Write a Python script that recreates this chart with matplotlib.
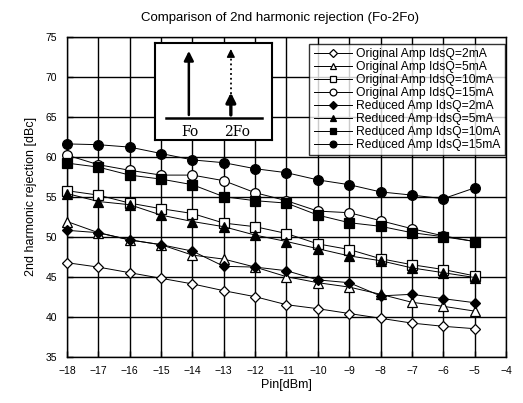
import numpy as np
import matplotlib
matplotlib.use("Agg")
import matplotlib.pyplot as plt

plt.rcParams['font.family'] = ['Liberation Sans', 'DejaVu Sans']

pin = [-18, -17, -16, -15, -14, -13, -12, -11, -10, -9, -8, -7, -6, -5]

orig_2 = [46.75, 46.2, 45.5, 44.8, 44.1, 43.25, 42.5, 41.5, 41.0, 40.4, 39.8, 39.2, 38.8, 38.5]
orig_5 = [51.9, 50.5, 49.6, 49.0, 47.7, 47.2, 46.2, 45.0, 44.25, 43.7, 42.8, 41.8, 41.3, 40.7]
orig_10 = [55.75, 55.2, 54.2, 53.5, 52.9, 51.7, 51.25, 50.4, 49.1, 48.4, 47.25, 46.5, 45.9, 45.1]
orig_15 = [60.2, 59.0, 58.3, 57.7, 57.7, 57.0, 55.5, 54.5, 53.2, 53.0, 52.0, 51.0, 50.1, 49.4]
red_2 = [50.8, 50.5, 49.6, 49.0, 48.2, 46.3, 46.2, 45.75, 44.6, 44.25, 42.6, 42.8, 42.25, 41.75]
red_5 = [55.4, 54.4, 54.0, 52.7, 51.9, 51.25, 50.2, 49.4, 48.5, 47.6, 47.0, 46.1, 45.5, 44.9]
red_10 = [59.2, 58.7, 57.7, 57.2, 56.5, 55.0, 54.5, 54.2, 52.7, 51.75, 51.3, 50.5, 50.0, 49.4]
red_15 = [61.6, 61.5, 61.2, 60.4, 59.6, 59.25, 58.5, 58.0, 57.1, 56.5, 55.6, 55.2, 54.75, 56.1]

labels = ["Original Amp IdsQ=2mA", "Original Amp IdsQ=5mA",
          "Original Amp IdsQ=10mA", "Original Amp IdsQ=15mA",
          "Reduced Amp IdsQ=2mA", "Reduced Amp IdsQ=5mA",
          "Reduced Amp IdsQ=10mA", "Reduced Amp IdsQ=15mA"]

xticks = list(range(-18, -3))
yticks = list(range(35, 80, 5))

fig = plt.figure(figsize=(5.23, 4.03), dpi=100)
ax = fig.add_axes([67 / 523, 1 - 356.7 / 403, 439 / 523, 320 / 403])

series = [
    (orig_2, 'D', 'white', 5.5),
    (orig_5, '^', 'white', 6.5),
    (orig_10, 's', 'white', 6.5),
    (orig_15, 'o', 'white', 7),
    (red_2, 'D', 'black', 5.5),
    (red_5, '^', 'black', 6.5),
    (red_10, 's', 'black', 6.5),
    (red_15, 'o', 'black', 7),
]
for (vals, mk, fc, ms), lab in zip(series, labels):
    ax.plot(pin, vals, color='black', lw=0.7, marker=mk, markersize=ms,
            markerfacecolor=fc, markeredgecolor='black', markeredgewidth=0.9,
            label=lab, zorder=3, clip_on=False)

ax.set_xlim(-18, -4)
ax.set_ylim(35, 75)
ax.set_xticks(xticks)
ax.set_yticks(yticks)
ax.set_xticklabels([str(t).replace('-', '\u2212') for t in xticks])
ax.tick_params(labelsize=7.5, direction='in', length=4, width=1, pad=7)
ax.grid(True, color='black', lw=1.0)
for s in ax.spines.values():
    s.set_linewidth(1.0)

ax.set_xlabel("Pin[dBm]", fontsize=9, labelpad=2)
ax.set_ylabel("2nd harmonic rejection [dBc]", fontsize=9, labelpad=6)
fig.text(0.535, 0.955, "Comparison of 2nd harmonic rejection (Fo-2Fo)",
         ha='center', va='center', fontsize=9.5)

leg = ax.legend(loc='upper right', bbox_to_anchor=(1.008, 0.992), fontsize=8.7,
                frameon=True, fancybox=False, edgecolor='black',
                handlelength=3.2, handletextpad=0.3, labelspacing=0.08,
                borderpad=0.35, markerscale=0.7, borderaxespad=0.4)
leg.get_frame().set_linewidth(1.0)
leg.set_zorder(5)

# inset spectrum sketch
ins = fig.add_axes([155 / 523, 1 - 140 / 403, 116.7 / 523, 96.7 / 403])
ins.set_xlim(0, 1)
ins.set_ylim(0, 1)
ins.set_xticks([])
ins.set_yticks([])
for s in ins.spines.values():
    s.set_linewidth(1.5)
ins.plot([0.09, 0.92], [0.23, 0.23], color='black', lw=1.8)
ins.annotate('', xy=(0.29, 0.95), xytext=(0.29, 0.23),
             arrowprops=dict(arrowstyle='-|>', color='black', lw=1.8,
                             mutation_scale=14))
ins.plot([0.65, 0.65], [0.48, 0.90], color='black', lw=1.3, ls=':')
ins.annotate('', xy=(0.65, 0.97), xytext=(0.65, 0.88),
             arrowprops=dict(arrowstyle='-|>', color='black', lw=1.0,
                             mutation_scale=12))
ins.annotate('', xy=(0.65, 0.52), xytext=(0.65, 0.23),
             arrowprops=dict(arrowstyle='-|>', color='black', lw=2.4,
                             mutation_scale=14))
ins.text(0.30, 0.08, "Fo", ha='center', va='center', fontsize=10,
         family='DejaVu Serif')
ins.text(0.70, 0.08, "2Fo", ha='center', va='center', fontsize=10,
         family='DejaVu Serif')

fig.savefig("out.png", dpi=100)
